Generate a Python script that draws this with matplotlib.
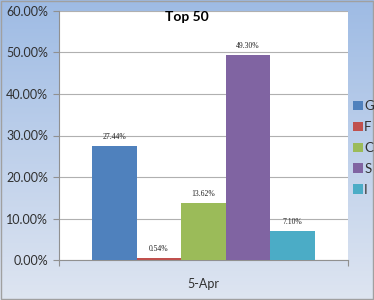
import numpy as np
import matplotlib
matplotlib.use("Agg")
import matplotlib.pyplot as plt
from matplotlib.ticker import FuncFormatter, FixedLocator

title = "Top 50"
category = "5-Apr"
series = ["G", "F", "C", "S", "I"]
values = [27.44, 0.54, 13.62, 49.30, 7.10]
colors = ["#4f81bd", "#c0504d", "#9bbb59", "#8064a2", "#4bacc6"]
yticks = [0, 10, 20, 30, 40, 50, 60]

plt.rcParams['font.family'] = ['Lato', 'DejaVu Sans']

fig = plt.figure(figsize=(3.74, 3.00), dpi=100)

# gradient background
bg = fig.add_axes([0, 0, 1, 1], zorder=-10)
top = np.array([158, 187, 228]) / 255
bot = np.array([222, 229, 241]) / 255
t = np.linspace(0, 1, 300)[:, None]
grad = top * (1 - t) + bot * t
grad = np.repeat(grad[:, None, :], 10, axis=1)
bg.imshow(grad, aspect='auto', extent=[0, 1, 0, 1])
bg.set_xlim(0, 1); bg.set_ylim(0, 1)
bg.axis('off')
bg.add_patch(plt.Rectangle((0.002, 0.003), 0.995, 0.993, fill=False,
                           edgecolor='#a0a0a0', lw=1.0, transform=bg.transAxes))

ax = fig.add_axes([59/374, 40/300, 289/374, 249/300])
ax.set_facecolor('white')

n = len(series)
w = 0.77 / n
xs = [(i - (n - 1) / 2) * w for i in range(n)]
bars = []
for x, v, c, s in zip(xs, values, colors, series):
    b = ax.bar(x, v, width=w, color=c, label=s, zorder=3)
    bars.append(b)
    ax.text(x, v + 1.2, f"{v:.2f}%", ha='center', va='bottom',
            fontsize=5.5, family='Liberation Serif', color='#202020', zorder=4)

ax.set_xlim(-0.5, 0.5)
ax.set_ylim(0, 60)
ax.set_yticks(yticks)
ax.yaxis.set_major_formatter(FuncFormatter(lambda v, p: f"{v:.2f}%"))
ax.tick_params(axis='y', labelsize=9, colors='#303030', length=4, width=0.8,
               pad=4, color='#909090')
ax.yaxis.grid(True, color='#b0b0b0', lw=0.8, zorder=0)
ax.set_xticks([0])
ax.set_xticklabels([category])
ax.tick_params(axis='x', which='major', length=0, labelsize=9, colors='#303030', pad=13)
ax.xaxis.set_minor_locator(FixedLocator([-0.5, 0.5]))
ax.tick_params(axis='x', which='minor', length=4, width=0.8, color='#909090')
for sp in ['top', 'right']:
    ax.spines[sp].set_visible(False)
ax.spines['left'].set_color('#909090')
ax.spines['bottom'].set_color('#909090')

fig.text(187/374, 1 - 17/300, title, ha='center', va='center', fontsize=10,
         fontweight='bold', color='black')

leg = fig.legend(handles=[b for b in bars], labels=series, loc='upper left',
                 bbox_to_anchor=(353/374, 1 - 100/300), frameon=False,
                 fontsize=9.5, handlelength=0.75, handleheight=0.75,
                 labelspacing=0.68, handletextpad=0.1, borderaxespad=0,
                 borderpad=0)
for txt in leg.get_texts():
    txt.set_color('#303030')

fig.savefig("out.png", dpi=100)
